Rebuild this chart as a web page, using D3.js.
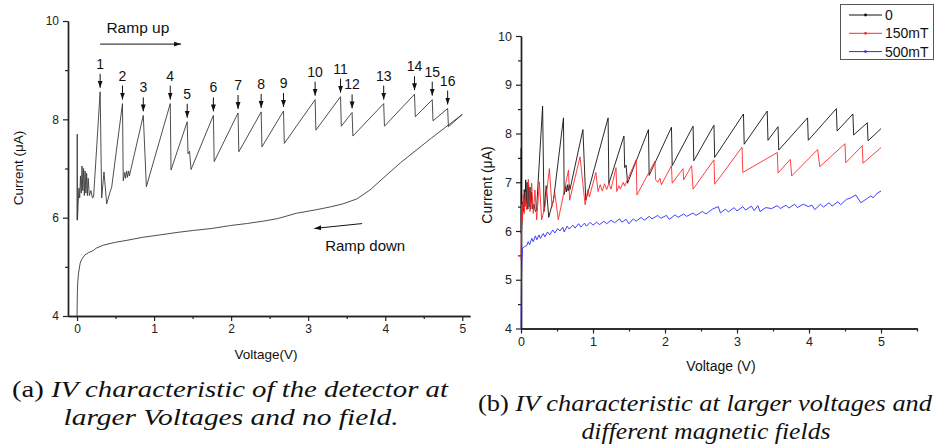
<!DOCTYPE html>
<html>
    <head>
        <script src="https://d3js.org/d3.v7.min.js"></script>
        <style>
            body{margin:0;background:#fff;}
            text{font-family:"Liberation Sans", Arial, sans-serif;}
        </style>
    </head>
    <body>
        <svg height="448" width="935" id="fig"></svg>
        <script>
            // [voltage, current]
            const rampUp=[
                [0.000,5.95],[0.003,7.70],[0.006,5.95],[0.015,6.30],[0.025,6.60],[0.035,6.40],
                [0.045,6.85],[0.055,6.50],[0.065,7.05],[0.075,6.55],[0.085,7.00],[0.095,6.45],
                [0.105,6.95],[0.115,6.50],[0.125,6.90],[0.135,6.45],[0.145,6.80],[0.160,6.45],
                [0.180,6.55],[0.200,6.40],[0.215,6.42],[0.30,8.56],[0.32,6.40],[0.35,6.93],
                [0.385,6.28],[0.43,6.53],[0.45,6.62],[0.59,8.32],[0.60,6.75],[0.62,6.92],
                [0.63,6.80],[0.645,6.95],[0.655,6.82],[0.67,6.95],[0.68,6.85],[0.86,8.08],
                [0.90,6.63],[1.21,8.32],[1.22,6.97],[1.43,7.95],[1.44,7.30],[1.46,7.35],
                [1.48,6.98],[1.77,8.08],[1.78,7.14],[2.09,8.13],[2.10,7.34],[2.39,8.15],
                [2.40,7.44],[2.68,8.17],[2.69,7.51],[3.09,8.40],[3.10,7.78],[3.42,8.46],
                [3.43,7.86],[3.57,8.14],[3.58,7.66],[3.98,8.32],[3.99,7.86],[4.38,8.51],
                [4.39,8.05],[4.61,8.40],[4.62,7.97],[4.81,8.22],[4.82,7.85],[5.00,8.10]
            ];
            const rampDown=[
                [5.00,8.10],[4.60,7.62],[4.20,7.12],[3.97,6.80],[3.80,6.56],[3.63,6.38],
                [3.45,6.28],[3.29,6.22],[3.10,6.16],[2.85,6.09],[2.60,5.98],[2.42,5.93],
                [2.20,5.88],[1.99,5.84],[1.75,5.78],[1.51,5.74],[1.30,5.70],[1.08,5.65],
                [0.85,5.60],[0.65,5.54],[0.50,5.50],[0.34,5.44],[0.25,5.38],[0.21,5.33],
                [0.15,5.29],[0.10,5.24],[0.06,5.15],[0.04,5.07],[0.02,4.87],[0.01,4.70],
                [0.005,4.50],[0.00,4.00]
            ];
            const field150=[
                [0.000,5.40],[0.005,5.90],[0.012,6.55],[0.02,6.20],[0.03,6.75],[0.045,6.35],
                [0.06,6.80],[0.079,6.43],[0.102,7.06],[0.125,6.40],[0.148,6.98],[0.171,6.36],
                [0.194,6.84],[0.218,6.23],[0.255,7.01],[0.287,6.23],[0.333,6.50],[0.394,7.28],
                [0.43,6.50],[0.47,6.78],[0.518,6.23],[0.66,7.25],[0.675,6.63],[0.82,7.52],
                [0.89,6.54],[0.93,6.85],[0.95,6.70],[1.04,7.20],[1.07,6.81],[1.10,6.95],
                [1.13,6.82],[1.16,6.97],[1.19,6.85],[1.22,6.98],[1.25,6.86],[1.32,7.30],
                [1.33,6.81],[1.36,6.93],[1.38,6.86],[1.42,7.00],[1.44,6.92],[1.60,7.46],
                [1.61,6.74],[1.86,7.43],[1.87,7.05],[1.90,7.00],[1.93,7.08],[1.95,6.95],
                [2.09,7.34],[2.10,6.98],[2.25,7.28],[2.26,7.05],[2.37,7.34],[2.39,6.86],
                [2.68,7.46],[2.69,6.96],[3.07,7.72],[3.08,7.20],[3.56,7.61],[3.57,7.19],
                [3.74,7.47],[3.76,7.13],[4.12,7.67],[4.15,7.32],[4.50,7.79],[4.51,7.40],
                [4.74,7.75],[4.75,7.39],[5.00,7.71]
            ];
            const field500=[
                [0.000,4.00],[0.005,4.80],[0.010,5.30],[0.020,5.65],[0.05,5.68],[0.08,5.70],
                [0.10,5.78],[0.12,5.72],[0.15,5.85],[0.17,5.78],[0.20,5.90],[0.22,5.82],
                [0.25,5.92],[0.27,5.85],[0.31,5.95],[0.33,5.88],[0.37,5.98],[0.40,5.92],
                [0.44,6.02],[0.47,5.96],[0.51,6.05],[0.54,6.00],[0.58,6.08],[0.60,5.98],
                [0.64,6.10],[0.67,6.04],[0.72,6.12],[0.75,6.06],[0.80,6.15],[0.83,6.08],
                [0.88,6.16],[0.91,6.10],[0.96,6.18],[1.00,6.12],[1.05,6.18],[1.09,6.13],
                [1.15,6.20],[1.19,6.15],[1.25,6.22],[1.30,6.17],[1.37,6.25],[1.40,6.18],
                [1.46,6.24],[1.50,6.15],[1.56,6.25],[1.60,6.20],[1.67,6.28],[1.71,6.22],
                [1.78,6.30],[1.82,6.25],[1.90,6.32],[1.94,6.26],[2.02,6.32],[2.06,6.24],
                [2.14,6.33],[2.18,6.28],[2.26,6.35],[2.30,6.30],[2.39,6.37],[2.43,6.32],
                [2.52,6.40],[2.57,6.35],[2.66,6.45],[2.74,6.50],[2.77,6.37],[2.84,6.45],
                [2.88,6.39],[2.96,6.48],[3.00,6.41],[3.08,6.50],[3.12,6.43],[3.20,6.51],
                [3.24,6.42],[3.29,6.52],[3.32,6.40],[3.40,6.48],[3.48,6.46],[3.56,6.52],
                [3.60,6.46],[3.68,6.53],[3.72,6.47],[3.80,6.55],[3.84,6.48],[3.92,6.55],
                [3.99,6.50],[4.04,6.53],[4.08,6.44],[4.16,6.55],[4.20,6.49],[4.28,6.58],
                [4.32,6.51],[4.40,6.60],[4.44,6.54],[4.52,6.65],[4.58,6.68],[4.65,6.74],
                [4.72,6.58],[4.80,6.66],[4.86,6.72],[4.89,6.68],[4.95,6.78],[5.00,6.82]
            ];
            const peakLabels=["1","2","3","4","5","6","7","8","9","10","11","12","13","14","15","16"];
            const peakVolts=[0.30,0.59,0.86,1.21,1.43,1.77,2.09,2.39,2.68,3.09,3.42,3.57,3.98,4.38,4.61,4.81];
            const legendNames=["0","150mT","500mT"];
            const legendColors=["#111","#ff2a2a","#2a2aff"];
            const xTicksMajor=[0,1,2,3,4,5];
            const yTicksLeft=[4,6,8,10];
            const yTicksRight=[4,5,6,7,8,9,10];

            let svg=d3.select("#fig");
            let defs=svg.append("defs");
            defs.append("marker").attr("id","head")
                .attr("viewBox","0 0 10 10").attr("refX",10).attr("refY",5)
                .attr("markerWidth",7).attr("markerHeight",7).attr("orient","auto")
                .append("path").attr("d","M0,1.5L10,5L0,8.5Z").attr("fill","#111");

            function styleAxis(g, fs){
                g.select(".domain").attr("stroke","#222").attr("stroke-width",1.4);
                g.selectAll(".tick line").attr("stroke","#222").attr("stroke-width",1.2);
                g.selectAll(".tick text").attr("fill","#222").style("font-size",fs+"px")
                    .style("font-family","'Liberation Sans', Arial, sans-serif");
            }

            // ---------- (a) left chart ----------
            let xL=d3.scaleLinear().domain([-0.117,5.1]).range([68,470]);
            let yL=d3.scaleLinear().domain([4,10]).range([316,21]);
            let left=svg.append("g");

            left.append("g").attr("transform","translate(0,316)")
                .call(d3.axisBottom(xL).tickValues(d3.range(0.5,5,1)).tickSize(3).tickFormat("").tickSizeOuter(0))
                .call(g=>styleAxis(g,12));
            left.append("g").attr("transform","translate(0,316)")
                .call(d3.axisBottom(xL).tickValues(xTicksMajor).tickSize(5).tickPadding(3).tickFormat(d3.format("d")).tickSizeOuter(0))
                .call(g=>styleAxis(g,12));
            left.append("g").attr("transform","translate(68,0)")
                .call(d3.axisLeft(yL).tickValues([5,7,9]).tickSize(3).tickFormat("").tickSizeOuter(0))
                .call(g=>styleAxis(g,12));
            left.append("g").attr("transform","translate(68,0)")
                .call(d3.axisLeft(yL).tickValues(yTicksLeft).tickSize(5).tickPadding(4).tickFormat(d3.format("d")).tickSizeOuter(0))
                .call(g=>styleAxis(g,12));

            let lineL=d3.line().x(d=>xL(d[0])).y(d=>yL(d[1]));
            left.append("path").datum(rampUp).attr("d",lineL)
                .attr("fill","none").attr("stroke","#3a3a3a").attr("stroke-width",0.9);
            left.append("path").datum(rampDown).attr("d",lineL)
                .attr("fill","none").attr("stroke","#3a3a3a").attr("stroke-width",0.9);

            // peak markers
            let peaks=peakVolts.map((v,k)=>{
                let p=rampUp.find(d=>Math.abs(d[0]-v)<1e-6);
                return {label:peakLabels[k], x:xL(p[0]), y:yL(p[1])};
            });
            let pk=left.selectAll(".peak").data(peaks).enter().append("g").attr("class","peak");
            pk.append("line")
                .attr("x1",d=>d.x).attr("x2",d=>d.x)
                .attr("y1",d=>d.y-18).attr("y2",d=>d.y-4)
                .attr("stroke","#111").attr("stroke-width",1).attr("marker-end","url(#head)");
            pk.append("text").attr("x",d=>d.x).attr("y",d=>d.y-23)
                .attr("text-anchor","middle").style("font-size","14px").attr("fill","#111")
                .text(d=>d.label);

            // ramp annotations
            left.append("text").attr("x",xL(0.79)).attr("y",yL(9.75)).attr("text-anchor","middle")
                .style("font-size","15.5px").attr("fill","#111").text("Ramp up");
            left.append("line").attr("x1",xL(0.30)).attr("x2",xL(1.35)).attr("y1",yL(9.53)).attr("y2",yL(9.53))
                .attr("stroke","#111").attr("stroke-width",1).attr("marker-end","url(#head)");
            left.append("text").attr("x",xL(3.74)).attr("y",yL(5.32)).attr("text-anchor","middle")
                .style("font-size","15px").attr("fill","#111").text("Ramp down");
            left.append("line").attr("x1",xL(3.70)).attr("x2",xL(3.08)).attr("y1",yL(5.88)).attr("y2",yL(5.78))
                .attr("stroke","#111").attr("stroke-width",1).attr("marker-end","url(#head)");

            left.append("text").attr("transform","translate(23,168) rotate(-90)").attr("text-anchor","middle")
                .style("font-size","13.5px").attr("fill","#111").text("Current (\u03bcA)");
            left.append("text").attr("x",266).attr("y",359).attr("text-anchor","middle")
                .style("font-size","13.5px").attr("fill","#111").text("Voltage(V)");

            // ---------- (b) right chart ----------
            let xR=d3.scaleLinear().domain([0,5.5]).range([521,917]);
            let yR=d3.scaleLinear().domain([4,10]).range([328.5,36]);
            let right=svg.append("g");

            right.append("g").attr("transform","translate(0,328.5)")
                .call(d3.axisBottom(xR).tickValues(d3.range(0.5,6,1)).tickSize(3).tickFormat("").tickSizeOuter(0))
                .call(g=>styleAxis(g,12));
            right.append("g").attr("transform","translate(0,328.5)")
                .call(d3.axisBottom(xR).tickValues(xTicksMajor).tickSize(5).tickPadding(4).tickFormat(d3.format("d")).tickSizeOuter(0))
                .call(g=>styleAxis(g,12.5));
            right.append("g").attr("transform","translate(521,0)")
                .call(d3.axisLeft(yR).tickValues(d3.range(4.5,10,1)).tickSize(3).tickFormat("").tickSizeOuter(0))
                .call(g=>styleAxis(g,12));
            right.append("g").attr("transform","translate(521,0)")
                .call(d3.axisLeft(yR).tickValues(yTicksRight).tickSize(5).tickPadding(4).tickFormat(d3.format("d")).tickSizeOuter(0))
                .call(g=>styleAxis(g,12.5));

            let lineR=d3.line().x(d=>xR(d[0])).y(d=>yR(d[1]));
            [rampUp,field150,field500].forEach((s,k)=>{
                right.append("path").datum(s).attr("d",lineR)
                    .attr("fill","none").attr("stroke",legendColors[k]).attr("stroke-width",0.9);
            });

            right.append("text").attr("transform","translate(492,185) rotate(-90)").attr("text-anchor","middle")
                .style("font-size","14px").attr("fill","#111").text("Current (\u03bcA)");
            right.append("text").attr("x",721).attr("y",371).attr("text-anchor","middle")
                .style("font-size","14px").attr("fill","#111").text("Voltage (V)");

            // legend
            let lg=svg.append("g");
            lg.append("rect").attr("x",840.5).attr("y",4.5).attr("width",93).attr("height",55)
                .attr("fill","#fff").attr("stroke","#555").attr("stroke-width",1);
            let items=lg.selectAll(".li").data(legendNames).enter().append("g")
                .attr("transform",(d,k)=>`translate(0,${15+k*18.3})`);
            items.append("line").attr("x1",849).attr("x2",882).attr("stroke",(d,k)=>legendColors[k]).attr("stroke-width",1);
            items.append("circle").attr("cx",865.5).attr("r",1.4).attr("fill",(d,k)=>legendColors[k]);
            items.append("text").attr("x",885).attr("y",5).style("font-size","14px").attr("fill","#111").text(d=>d);

            // captions
            const serif="'Liberation Serif', 'Times New Roman', serif";
            function caption(x,y,len,tag,body){
                let t=svg.append("text").attr("x",x).attr("y",y).attr("text-anchor","middle")
                    .style("font-family",serif).style("font-size","23.5px").attr("fill","#111")
                    .attr("textLength",len).attr("lengthAdjust","spacingAndGlyphs");
                if(tag) t.append("tspan").text(tag+" ");
                t.append("tspan").style("font-style","italic").text(body);
            }
            caption(230,397,436,"(a)","IV characteristic of the detector at");
            caption(231,425,335,null,"larger Voltages and no field.");
            caption(705,411,454,"(b)","IV characteristic at larger voltages and");
            caption(706,439,249,null,"different magnetic fields");
        </script>
    </body>
</html>
